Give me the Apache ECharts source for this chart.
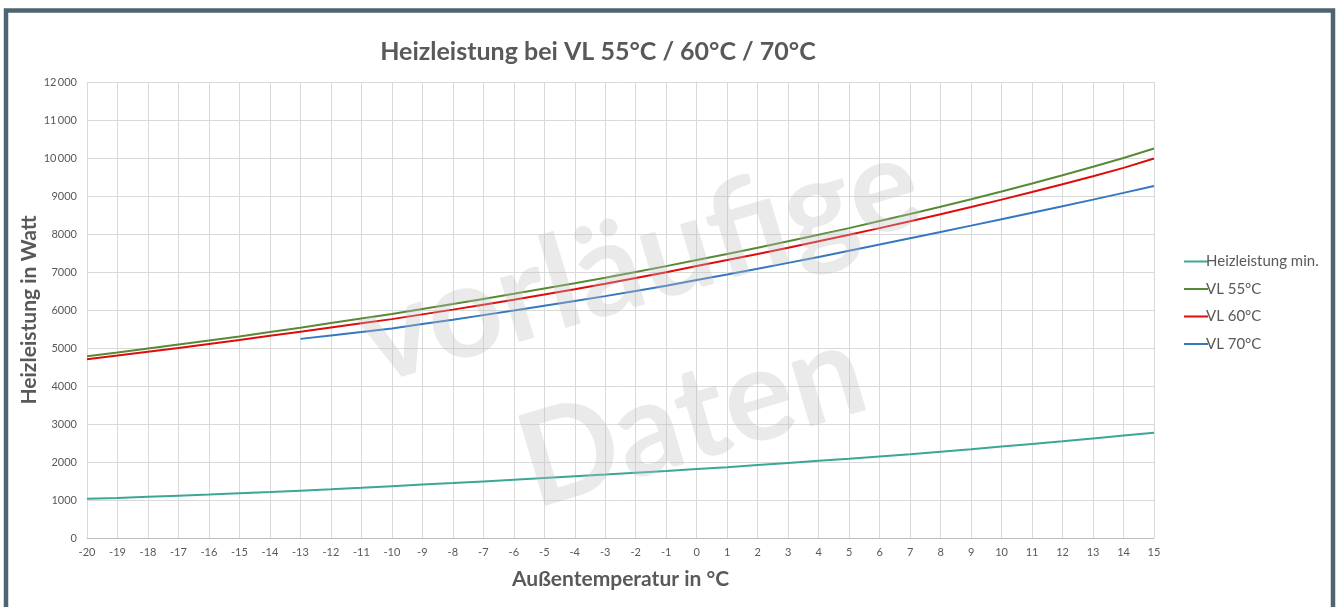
<!DOCTYPE html>
<html>
<head>
<meta charset="utf-8">
<script src="https://cdn.jsdelivr.net/npm/echarts@6/dist/echarts.min.js"></script>
<style>
  html, body { margin: 0; padding: 0; background: #fff; }
  #chart { width: 1338px; height: 607px; }
</style>
</head>
<body>
<div id="chart"></div>
<script>
// Außentemperatur -20 .. 15 °C
var temps = [-20, -19, -18, -17, -16, -15, -14, -13, -12, -11, -10, -9, -8, -7, -6, -5, -4, -3,
  -2, -1, 0, 1, 2, 3, 4, 5, 6, 7, 8, 9, 10, 11, 12, 13, 14, 15];

var heizMin = [1030, 1055, 1085, 1115, 1145, 1178, 1210, 1245, 1280, 1320, 1365, 1405, 1445, 1490,
  1535, 1580, 1625, 1670, 1720, 1765, 1815, 1865, 1920, 1975, 2030, 2085, 2145, 2205, 2270, 2335,
  2405, 2475, 2545, 2620, 2695, 2770];

var vl55 = [4780, 4880, 4985, 5090, 5195, 5305, 5420, 5535, 5655, 5775, 5895, 6025, 6155, 6290,
  6425, 6565, 6705, 6850, 7000, 7155, 7316, 7475, 7640, 7810, 7980, 8155, 8340, 8525, 8719, 8915,
  9120, 9330, 9545, 9770, 10000, 10250];

var vl60 = [4705, 4800, 4900, 5000, 5105, 5210, 5320, 5430, 5540, 5650, 5760, 5885, 6010, 6140,
  6270, 6405, 6545, 6690, 6840, 6995, 7158, 7315, 7475, 7640, 7810, 7980, 8155, 8335, 8518, 8710,
  8905, 9105, 9310, 9520, 9740, 9985];

// VL 70°C erst ab -13 °C
var vl70 = [null, null, null, null, null, null, null, 5240, 5330, 5420, 5515, 5630, 5745, 5865,
  5985, 6110, 6235, 6365, 6500, 6640, 6789, 6935, 7085, 7240, 7395, 7560, 7722, 7886, 8052, 8220,
  8390, 8560, 8732, 8905, 9082, 9265];

var seriesNames = ["Heizleistung min.", "VL 55°C", "VL 60°C", "VL 70°C"];
var seriesColors = ["#3aa797", "#588a35", "#e00b0b", "#3578c0"];
var seriesValues = [heizMin, vl55, vl60, vl70];

function pairs(vals) {
  var out = [];
  for (var i = 0; i < temps.length; i++) {
    if (vals[i] != null) out.push([temps[i], vals[i]]);
  }
  return out;
}

var font = "Lato, 'Open Sans', sans-serif";
var grey = "#595959";

var chart = echarts.init(document.getElementById("chart"));

var series = [];
for (var i = 0; i < seriesNames.length; i++) {
  series.push({
    name: seriesNames[i],
    type: "line",
    data: pairs(seriesValues[i]),
    showSymbol: false,
    color: seriesColors[i],
    lineStyle: { width: 2, color: seriesColors[i] },
    z: 5,
  });
}

var option = {
  animation: false,
  textStyle: { fontFamily: font },
  grid: { left: 87, right: 184, top: 82, bottom: 69 },
  legend: {
    orient: "vertical",
    left: 1179,
    top: 249,
    itemWidth: 24,
    itemHeight: 2,
    itemGap: 12.5,
    icon: "rect",
    textStyle: { color: grey, fontSize: 15, fontFamily: font, padding: [0, 0, 0, -7] },
    data: seriesNames,
  },
  xAxis: {
    type: "value",
    min: -20,
    max: 15,
    interval: 1,
    name: "Außentemperatur in °C",
    nameLocation: "middle",
    nameGap: 31,
    nameTextStyle: { color: grey, fontSize: 21, fontWeight: "bold", fontFamily: font },
    axisLine: { show: true, lineStyle: { color: "#bfbfbf", width: 1 } },
    axisTick: { show: false },
    axisLabel: { color: grey, fontSize: 11, margin: 9 },
    splitLine: { show: true, lineStyle: { color: "#d9d9d9", width: 1 } },
  },
  yAxis: {
    type: "value",
    min: 0,
    max: 12000,
    interval: 1000,
    name: "Heizleistung in Watt",
    nameLocation: "middle",
    nameGap: 47,
    nameMoveOverlap: false,
    nameRotate: 90,
    nameTextStyle: { color: grey, fontSize: 21, fontWeight: "bold", fontFamily: font },
    axisLine: { show: true, lineStyle: { color: "#d9d9d9", width: 1 } },
    axisTick: { show: false },
    axisLabel: {
      color: grey,
      fontSize: 11,
      margin: 10,
      formatter: function (v) {
        if (v >= 10000) return String(Math.floor(v / 1000)) + "\u2009" + "000";
        return String(v);
      },
    },
    splitLine: { show: true, lineStyle: { color: "#d9d9d9", width: 1 } },
  },
  graphic: [
    {
      type: "rect",
      silent: true,
      shape: { x: 6, y: 10.5, width: 1327, height: 640 },
      style: { fill: "none", stroke: "#4e6470", lineWidth: 4.5 },
      z: 100,
    },
    {
      type: "text",
      silent: true,
      x: 598,
      y: 52,
      style: {
        text: "Heizleistung bei VL 55°C / 60°C / 70°C",
        fill: grey,
        font: "bold 25px " + font,
        textAlign: "center",
        textVerticalAlign: "middle",
      },
    },
    {
      // Wasserzeichen
      type: "text",
      silent: true,
      x: 640,
      y: 262,
      rotation: 0.29,
      style: {
        text: "vorläufige",
        fill: "rgba(190,190,190,0.33)",
        font: "bold 130px " + font,
        textAlign: "center",
        textVerticalAlign: "middle",
      },
      z: 10,
    },
    {
      type: "text",
      silent: true,
      x: 692,
      y: 418,
      rotation: 0.29,
      style: {
        text: "Daten",
        fill: "rgba(190,190,190,0.33)",
        font: "bold 130px " + font,
        textAlign: "center",
        textVerticalAlign: "middle",
      },
      z: 10,
    },
  ],
  series: series,
};

chart.setOption(option);
</script>
</body>
</html>
